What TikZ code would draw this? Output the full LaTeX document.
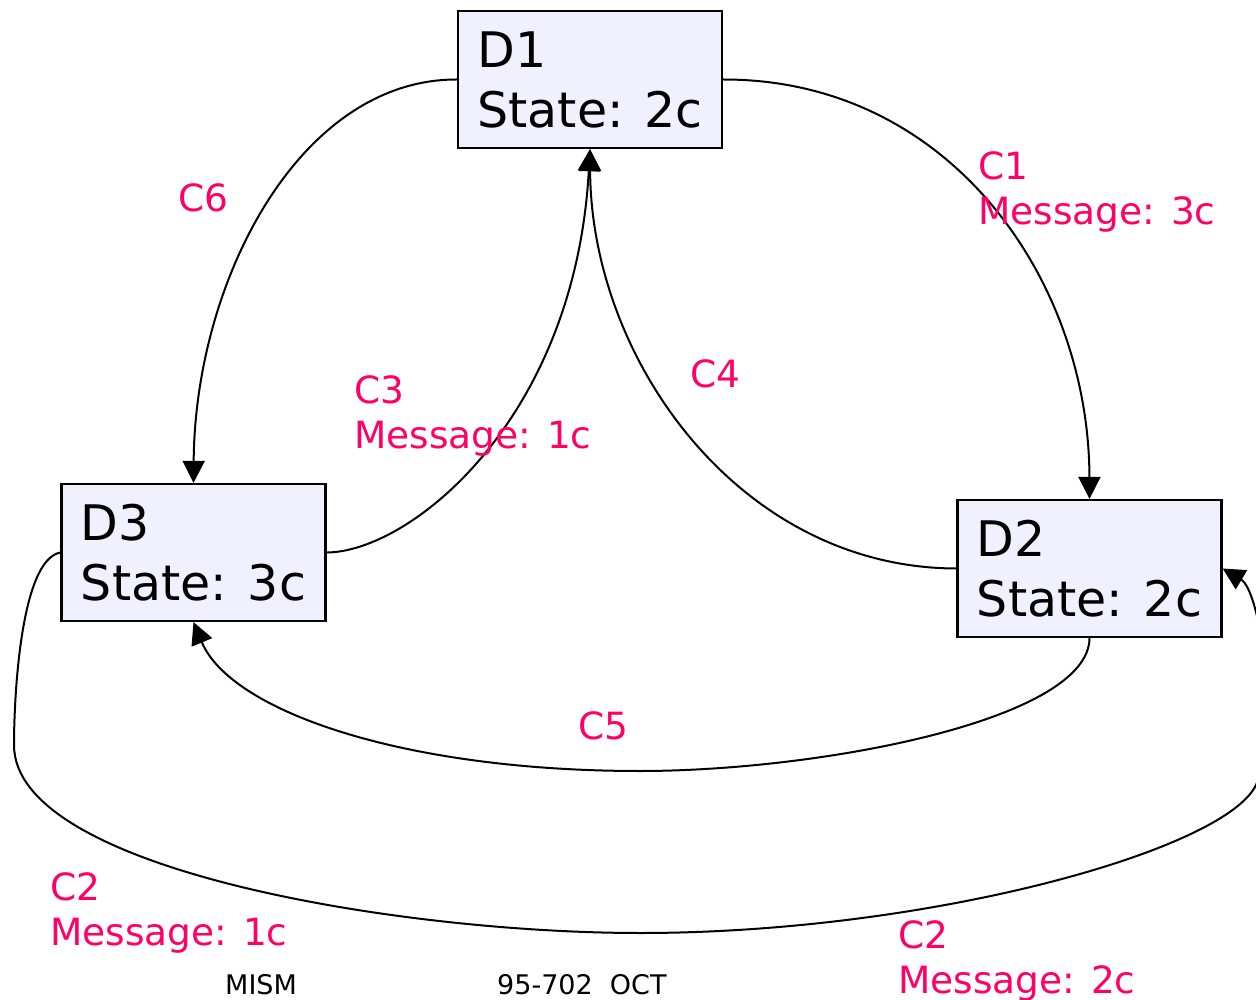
\documentclass[tikz,border=0pt]{standalone}
\usepackage{fontspec}
\setmainfont{DejaVu Sans}
\usetikzlibrary{arrows.meta}
\definecolor{boxfill}{RGB}{240,240,255}
\definecolor{lblcol}{RGB}{255,0,102}
\begin{document}
\begin{tikzpicture}[x=1pt,y=-1pt,
  devbox/.style={draw, line width=2.2pt, fill=boxfill, minimum width=264pt,
    minimum height=137pt, inner sep=0pt,
    align=left, font=\fontsize{49}{60}\selectfont},
  conn/.style={line width=2pt, -{Triangle[length=22pt,width=22pt]}},
  lbl/.style={text=lblcol, font=\fontsize{37.5}{45}\selectfont, align=left,
    anchor=base west, inner sep=0pt},
  foot/.style={font=\fontsize{27}{30}\selectfont, anchor=base west, inner sep=0pt}]
\useasboundingbox (0,0) rectangle (1256,1000);

% devices
\node[devbox] (d1) at (590,79.5) {D1\\State: 2c};
\node[devbox] (d3) at (193.5,552.5) {D3\\State: 3c};
\node[devbox] (d2) at (1089.5,568.5) {D2\\State: 2c};

% channels
\draw[conn] (d1.east) .. controls (950,79) and (1089,280) .. (d2.north);
\draw[conn] (d1.west) .. controls (300,79) and (195,280) .. (d3.north);
\draw[conn] (d3.east) .. controls (410,552) and (575,420) .. (d1.south);
\draw[conn] (d2.west) .. controls (740,568) and (591,360) .. (d1.south);
\draw[conn] (d2.south) .. controls (1089,720) and (820,771) .. (640,771)
  .. controls (400,771) and (230,710) .. (d3.south);
\coordinate (r) at (1256,785);
\draw[conn] (d3.west) .. controls (20,560) and (14,700) .. (14,745)
  .. controls (14,870) and (400,933) .. (640,933)
  .. controls (930,933) and (1225,850) .. (r)
  .. controls (1280,740) and (1262,592) .. (d2.east);

% channel labels (anchored on the baseline of the last line)
\node[lbl] (l6) at (178,212) {C6};
\node[lbl] (l1) at (978,225) {C1\\Message: 3c};
\node[lbl] (l3) at (354,448) {C3\\Message: 1c};
\node[lbl] (l4) at (690,387) {C4};
\node[lbl] (l5) at (578,739) {C5};
\node[lbl] (l2a) at (50,945) {C2\\Message: 1c};
\node[lbl] (l2b) at (898,993) {C2\\Message: 2c};

% footer
\node[foot] (f1) at (225,994) {MISM};
\node[foot] (f2) at (497,994) {95-702~~OCT};
\end{tikzpicture}
\end{document}
